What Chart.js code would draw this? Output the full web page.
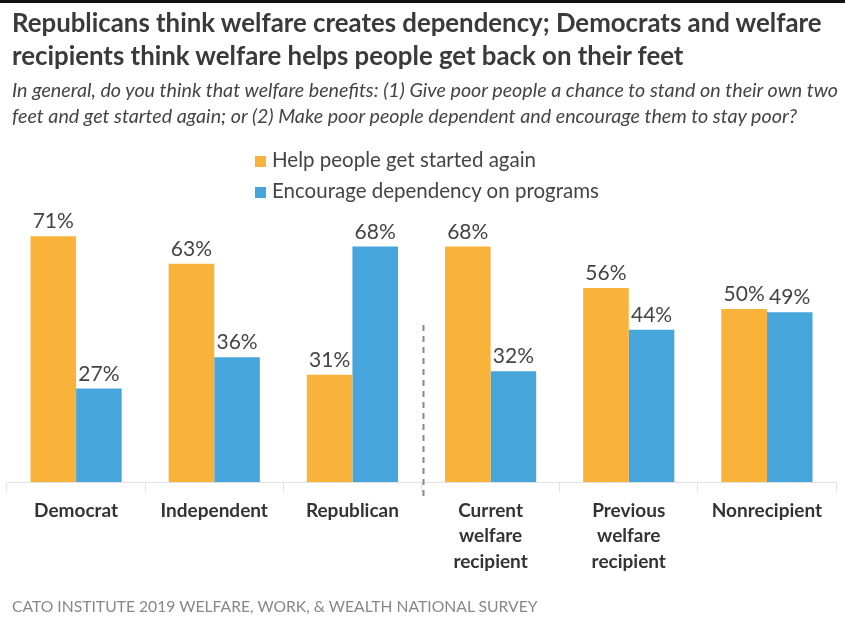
<!DOCTYPE html>
<html>
<head>
<meta charset="utf-8">
<script src="https://cdn.jsdelivr.net/npm/chart.js@4/dist/chart.umd.min.js"></script>
<style>
  html, body { margin: 0; padding: 0; background: #fff; }
  body { width: 845px; height: 623px; position: relative; overflow: hidden; font-family: Lato, "Open Sans", sans-serif; }
  #topbar { position: absolute; left: 0; top: 0; width: 845px; height: 3px; background: #111; }
  #title { position: absolute; left: 12px; top: 6px; width: 840px; font-weight: bold; font-size: 25.8px; line-height: 33px; color: #3a3a3a; white-space: nowrap; }
  #subtitle { position: absolute; left: 12px; top: 77px; width: 840px; font-style: italic; font-size: 19.7px; line-height: 26px; color: #444; white-space: nowrap; }
  #legend { position: absolute; left: 255px; top: 144px; font-size: 20.5px; color: #444; line-height: 31px; }
  #legend .sw { display: inline-block; width: 11px; height: 11px; margin-right: 6px; vertical-align: 0px; }
  #source { position: absolute; left: 12px; top: 597px; font-size: 15.7px; color: #888; white-space: nowrap; }
  #wrap { position: absolute; left: 0; top: 0; width: 845px; height: 623px; }
</style>
</head>
<body>
<div id="wrap"><canvas id="c" width="845" height="623"></canvas></div>
<div id="topbar"></div>
<div id="title">Republicans think welfare creates dependency; Democrats and welfare<br>recipients think welfare helps people get back on their feet</div>
<div id="subtitle">In general, do you think that welfare benefits: (1) Give poor people a chance to stand on their own two<br>feet and get started again; or (2) Make poor people dependent and encourage them to stay poor?</div>
<div id="legend"></div>
<div id="source">CATO INSTITUTE 2019 WELFARE, WORK, &amp; WEALTH NATIONAL SURVEY</div>
<script>
const categories = [
  "Democrat",
  "Independent",
  "Republican",
  ["Current", "welfare", "recipient"],
  ["Previous", "welfare", "recipient"],
  "Nonrecipient"
];
const seriesNames = ["Help people get started again", "Encourage dependency on programs"];
const helpValues = [71, 63, 31, 68, 56, 50];
const dependencyValues = [27, 36, 68, 32, 44, 49];
const seriesColors = ["#F9B23A", "#46A6DC"];

// HTML legend
const legendEl = document.getElementById('legend');
seriesNames.forEach((n, i) => {
  const row = document.createElement('div');
  row.innerHTML = '<span class="sw" style="background:' + seriesColors[i] + '"></span>' + n;
  legendEl.appendChild(row);
});

const valueLabels = {
  id: 'valueLabels',
  afterDatasetsDraw(chart) {
    const ctx = chart.ctx;
    ctx.save();
    ctx.font = '21px Lato, sans-serif';
    ctx.fillStyle = '#444';
    ctx.textAlign = 'center';
    ctx.textBaseline = 'alphabetic';
    chart.data.datasets.forEach((ds, di) => {
      const meta = chart.getDatasetMeta(di);
      meta.data.forEach((bar, i) => {
        ctx.fillText(ds.data[i] + '%', bar.x, bar.y - 8);
      });
    });
    ctx.restore();
  }
};

const separator = {
  id: 'separator',
  afterDraw(chart) {
    const xs = chart.scales.x;
    const x = Math.round((xs.getPixelForValue(2) + xs.getPixelForValue(3)) / 2) + 1.5;
    const ctx = chart.ctx;
    ctx.save();
    ctx.strokeStyle = '#888';
    ctx.lineWidth = 2;
    ctx.setLineDash([6, 5]);
    ctx.beginPath();
    ctx.moveTo(x, 325);
    ctx.lineTo(x, 497);
    ctx.stroke();
    ctx.restore();
  }
};

new Chart(document.getElementById('c'), {
  type: 'bar',
  data: {
    labels: categories,
    datasets: [
      { label: seriesNames[0], data: helpValues, backgroundColor: seriesColors[0] },
      { label: seriesNames[1], data: dependencyValues, backgroundColor: seriesColors[1] }
    ]
  },
  options: {
    responsive: false,
    animation: false,
    events: [],
    layout: { padding: { top: 205, left: 7, right: 9, bottom: 41 } },
    datasets: { bar: { categoryPercentage: 0.66, barPercentage: 1.0, borderWidth: 0 } },
    plugins: { legend: { display: false }, tooltip: { enabled: false }, title: { display: false } },
    scales: {
      y: { display: false, min: 0, max: 80 },
      x: {
        afterFit(scale) { scale.height = 100; },
        border: { display: true, color: '#e2e2e2', width: 1 },
        grid: { offset: true, drawOnChartArea: false, drawTicks: true, tickLength: 10, color: '#e2e2e2' },
        ticks: {
          font: { family: 'Lato, sans-serif', size: 19, weight: 'bold', lineHeight: 1.34 },
          color: '#333',
          padding: 6,
          maxRotation: 0,
          autoSkip: false
        }
      }
    }
  },
  plugins: [valueLabels, separator]
});
</script>
</body>
</html>
